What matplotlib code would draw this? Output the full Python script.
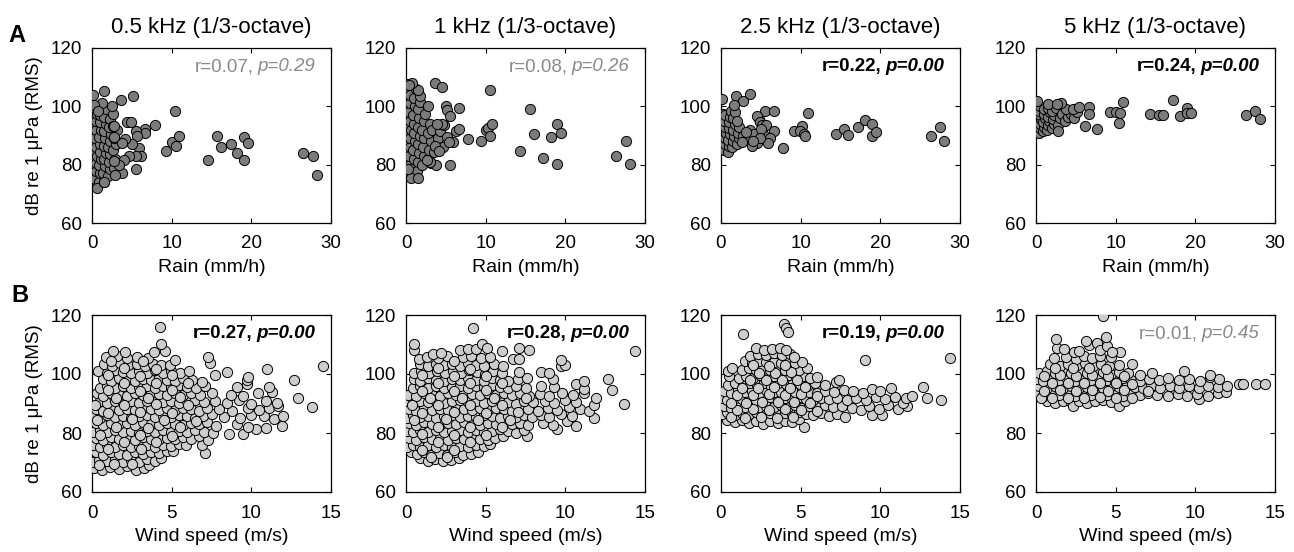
import matplotlib
matplotlib.use("Agg")
import matplotlib.pyplot as plt
import numpy as np

plt.rcParams['font.family'] = ['Liberation Sans', 'DejaVu Sans']

# ---------------- data ----------------
freq_titles = ["0.5 kHz (1/3-octave)", "1 kHz (1/3-octave)", "2.5 kHz (1/3-octave)", "5 kHz (1/3-octave)"]
rain_xticks = [0, 10, 20, 30]
wind_xticks = [0, 5, 10, 15]
db_yticks = [60, 80, 100, 120]

rain_r = ["0.07", "0.08", "0.22", "0.24"]
rain_p = ["0.29", "0.26", "0.00", "0.00"]
rain_sig = [False, False, True, True]
wind_r = ["0.27", "0.28", "0.19", "0.01"]
wind_p = ["0.00", "0.00", "0.00", "0.45"]
wind_sig = [True, True, True, False]

# Row A: rain (mm/h) vs level (dB)
rain_05 = [
 (0.05,76),(0.1,79),(0.05,82),(0.15,85),(0.1,88),(0.05,91),(0.15,94),(0.1,97),(0.2,99.5),
 (0.4,75),(0.5,78),(0.45,80.5),(0.6,83),(0.5,86),(0.4,89),(0.55,92),(0.45,95),(0.6,97.5),
 (0.9,74),(1.0,77),(0.85,80),(1.1,82),(0.95,84.5),(1.0,87),(0.9,89.5),(1.1,92),(0.95,94.5),(1.05,97),(1.2,99.5),
 (0.6,72),(1.5,74),(1.4,77),(1.6,79.5),(1.45,82),(1.7,84),(1.5,86.5),(1.6,89),(1.45,91.5),(1.7,94),(1.5,96.5),(1.8,99),
 (2.0,76),(2.2,78.5),(2.1,81),(2.3,83.5),(2.0,86),(2.2,88),(2.4,90.5),(2.1,93),(2.3,95.5),(2.6,97.5),
 (2.7,79),(2.9,82),(2.6,85),(3.0,87),(2.8,89),(3.1,92),(2.6,93.4),
 (0.1,104.0),(1.5,105.1),(2.5,100.2),(1.3,101),(0.3,100.5),(0.8,98.5),
 (7.87,93.7),(6.6,92.2),(6.7,90.9),(5.2,103.4),(3.7,102.1),(4.4,94.5),(4.9,94.5),(5.5,91.4),(5.7,89.9),
 (5.9,85.7),(5.05,87.2),(6.2,82.9),(5.5,82.9),(5.5,78.5),(4.6,82.9),(4.0,81.7),(4.2,88.8),(3.8,87.4),
 (3.8,77.1),(2.9,76.6),(3.4,80.0),(2.7,81.1),(2.7,89.5),(2.7,93.4),(1.5,73.9),
 (10.44,98.5),(9.35,84.6),(10.0,87.7),(10.6,86.3),(10.95,89.7),(14.5,81.7),(15.7,89.9),(16.2,86.1),
 (17.4,87.2),(18.2,84.0),(19.1,81.7),(19.1,89.5),(19.6,87.4),(26.5,84.0),(27.7,83.1),(28.2,76.6),
]
rain_1k = [
 (0.05,78),(0.1,81),(0.05,84),(0.15,87),(0.1,90),(0.05,93),(0.15,96),(0.1,99),(0.2,102),(0.1,105),(0.2,107.5),
 (0.45,77),(0.5,80),(0.4,83),(0.55,86),(0.45,89),(0.6,92),(0.5,95),(0.4,98),(0.55,101),(0.5,104),
 (0.9,79),(1.0,82),(0.85,85),(1.1,88),(0.95,91),(1.0,94),(0.9,97),(1.1,100),(1.0,103),(1.2,106),
 (1.4,78),(1.5,81),(1.6,84),(1.45,87),(1.7,90),(1.5,93),(1.6,96),(1.45,99),(1.8,101.5),
 (2.0,80),(2.2,83),(2.1,86),(2.3,89),(2.0,92),(2.2,95),(2.4,97.5),
 (2.8,82),(2.9,85),(3.1,88),(2.7,91),(3.0,94),(3.3,92),(3.5,84.5),(3.2,80.5),
 (4.0,89),(4.3,91.5),(4.8,93.5),(5.2,89.5),(4.6,86),
 (10.5,105.5),(15.6,99.2),(19.0,93.9),(19.4,91),(18.2,89.6),(16.1,90.4),(14.3,84.7),(17.2,82.4),(19.0,80.2),
 (7.8,88.7),(9.4,88),(10.0,92),(10.25,92.5),(10.8,94),(10.6,89.8),(26.4,83.1),(27.6,88.2),(28.1,80.2),
 (3.6,108),(4.5,106.8),(5.0,100.2),(5.1,98.9),(5.5,96.7),(6.7,99.4),(6.3,91.6),(6.6,92.2),(5.9,87.9),
 (5.4,87.7),(5.5,80),(3.8,80),(3.0,80.9),(2.6,81.5),(4.5,93.9),(3.9,93.9),(3.6,86.5),(4.1,84.7),
 (2.7,100.2),(1.8,103.7),(1.5,105.7),(0.8,107.9),(0.4,107.3),(0.6,75.5),(1.5,75.5),(0.3,78.5),
]
rain_25k = [
 (0.05,85.5),(0.1,87.5),(0.05,89.5),(0.15,91.5),(0.1,93.5),(0.05,95.5),(0.2,97.5),
 (0.4,85),(0.5,87),(0.45,89),(0.6,91),(0.5,93),(0.4,95),(0.55,97),
 (0.9,84.5),(1.0,86.5),(0.85,88.5),(1.1,90.5),(0.95,92.5),(1.0,94.5),(1.1,96.5),(1.3,98.5),
 (1.4,86),(1.5,88),(1.6,90),(1.45,92),(1.7,94),(1.5,96),(1.8,98),
 (2.0,87),(2.2,89),(2.1,91),(2.3,93),(2.0,95),
 (2.8,90),(3.3,88.5),(3.6,92),(4.2,90.5),(4.5,87.5),(3.9,86.5),(4.8,95.5),(5.3,90.5),
 (0.08,102.4),(1.84,103.6),(2.7,102),(3.7,104.1),(1.67,100.6),(5.5,98.3),(6.7,98.5),(4.5,96.7),
 (4.9,94.7),(5.1,93.6),(5.6,93.6),(5.0,92.2),(6.6,91.5),(6.1,89.3),(5.9,87.3),(4.9,89.3),(4.0,88.2),
 (3.1,91.3),(2.6,87.9),(7.8,85.8),(9.2,91.4),(10.2,93.3),(9.9,91.4),(10.4,90.5),(10.5,89.7),(10.9,97.7),
 (14.4,90.5),(15.5,92.3),(16.0,90.3),(17.2,92.8),(18.1,95.4),(18.96,94.0),(18.9,89.9),(19.5,91.1),
 (26.3,89.7),(27.5,92.8),(28.0,88),
]
rain_5k = [
 (0.05,91.5),(0.1,93),(0.05,94.5),(0.15,96),(0.1,97.5),(0.05,99),(0.2,100.5),
 (0.4,91),(0.5,92.5),(0.45,94),(0.6,95.5),(0.5,97),(0.4,98.5),(0.55,100),
 (0.9,91.5),(1.0,93),(0.85,94.5),(1.1,96),(0.95,97.5),(1.0,99),
 (1.4,92),(1.5,93.5),(1.6,95),(1.45,96.5),(1.7,98),(1.5,99.5),
 (2.0,92.5),(2.2,94),(2.1,95.5),(2.3,97),(2.0,98.5),(2.5,99.5),
 (2.8,93.5),(3.0,96),(2.7,91.5),(3.3,97.5),(3.6,95),(4.0,96.5),(4.4,97.5),(4.8,96),(5.2,98),(3.8,99),(4.6,99),
 (0.17,102),(1.55,100.8),(3.2,101.2),(2.6,100.8),(6.7,99.7),(5.4,99.7),(6.6,97.5),(6.2,93.2),(7.7,92.3),
 (9.3,98),(10.0,98),(10.6,97.7),(10.9,101.6),(10.4,94.4),(14.3,97.5),(15.5,96.9),(16.0,97.2),(17.2,102.3),
 (18.1,96.7),(19.0,99.5),(19.0,97.6),(19.5,97.6),(26.4,96.9),(27.5,98.4),(28.1,95.8),
]

# Row B: wind speed (m/s) vs level (dB)
wind_05 = [
 (0.15,68.3),(0.65,67.6),(1.15,68.5),(1.7,67.9),(2.2,68.7),(2.75,67.5),(3.25,68.2),(3.6,69.0),
 (0.05,70.2),(0.45,71.0),(0.95,70.4),(1.45,71.2),(1.95,70.1),(2.45,70.8),(2.95,70.3),(3.45,71.1),(3.95,70.6),(4.35,71.5),
 (0.25,73.4),(0.7,72.7),(1.2,73.6),(1.7,73.0),(2.2,72.6),(2.7,73.5),(3.2,72.9),(3.7,73.7),(4.2,73.1),(4.7,73.8),(5.1,74.0),(7.1,73.2),
 (0.05,75.8),(0.5,75.2),(0.95,76.0),(1.45,75.4),(1.95,75.9),(2.45,75.1),(2.95,75.7),(3.45,76.1),(3.95,75.3),(4.45,75.9),(4.95,75.5),(5.45,76.2),(5.9,76.0),(6.9,75.8),
 (0.25,78.3),(0.7,77.6),(1.2,78.5),(1.7,77.9),(2.2,78.2),(2.7,77.7),(3.2,78.6),(3.7,78.0),(4.2,77.8),(4.7,78.4),(5.2,77.9),(5.7,78.5),(6.2,78.1),(6.7,78.9),(7.3,77.6),
 (0.05,80.2),(0.5,80.9),(0.95,80.4),(1.45,81.0),(1.95,80.3),(2.45,80.8),(2.95,80.1),(3.45,80.7),(3.95,80.4),(4.45,81.0),(4.95,80.2),(5.45,80.8),(5.95,80.5),(6.45,81.1),(7.0,80.4),(7.6,80.0),(8.6,79.8),(9.5,79.6),(10.3,81.2),(10.9,81.8),
 (0.25,83.3),(0.7,82.7),(1.2,83.5),(1.7,82.9),(2.2,83.4),(2.7,82.8),(3.2,83.6),(3.7,83.0),(4.2,82.6),(4.7,83.4),(5.2,83.1),(5.7,82.7),(6.2,83.5),(6.7,82.9),(7.2,83.6),(7.8,82.4),(9.1,83.0),(9.8,82.1),(11.9,82.5),
 (0.05,85.8),(0.5,85.2),(0.95,86.0),(1.45,85.4),(1.95,85.9),(2.45,85.1),(2.95,85.7),(3.45,86.1),(3.95,85.3),(4.45,85.9),(4.95,85.5),(5.45,86.2),(5.95,85.6),(6.45,85.1),(6.95,85.9),(7.5,86.3),(8.3,85.4),(9.3,85.0),(10.0,86.2),(10.8,85.6),(11.4,84.9),(12.0,85.9),
 (0.25,88.3),(0.7,87.6),(1.2,88.5),(1.7,87.9),(2.2,88.2),(2.7,87.7),(3.2,88.6),(3.7,88.0),(4.2,87.8),(4.7,88.4),(5.2,87.9),(5.7,88.5),(6.2,88.1),(6.7,87.6),(7.2,88.4),(8.0,88.0),(8.8,87.4),(9.8,88.6),(10.5,87.9),(11.1,88.4),(11.7,89.0),(13.8,88.7),
 (0.5,90.8),(0.95,90.2),(1.45,91.0),(1.95,90.4),(2.45,90.9),(2.95,90.3),(3.45,90.7),(3.95,91.1),(4.45,90.5),(4.95,90.9),(5.45,90.2),(5.95,90.8),(6.45,91.2),(7.0,90.6),(7.7,91.0),(8.5,90.2),(9.2,91.3),(10.0,90.0),(10.9,90.8),(11.6,90.1),(12.9,91.8),
 (0.3,93.4),(0.7,92.7),(1.2,93.6),(1.7,93.0),(2.2,92.6),(2.7,93.5),(3.2,92.9),(3.7,93.7),(4.2,93.1),(4.7,92.8),(5.2,93.5),(5.7,93.0),(6.2,93.7),(6.8,92.9),(7.5,93.4),(8.7,93.0),(9.5,92.5),(10.4,93.6),(11.3,94.0),
 (0.5,95.2),(0.95,96.0),(1.45,95.4),(1.95,95.9),(2.45,95.1),(2.95,95.7),(3.45,96.1),(3.95,95.3),(4.45,95.9),(4.95,95.5),(5.45,96.2),(5.95,95.6),(6.5,95.1),(7.1,96.0),(9.1,95.5),(9.7,96.6),(11.1,95.5),
 (0.7,98.3),(1.2,97.7),(1.7,98.5),(2.2,98.0),(2.7,97.6),(3.2,98.4),(3.7,97.9),(4.2,98.6),(4.7,98.1),(5.2,97.7),(5.7,98.5),(6.3,98.0),(6.9,97.4),(7.7,99.7),(9.7,98.0),(9.8,98.9),(12.7,97.8),
 (0.4,101.0),(0.95,100.4),(1.45,101.2),(1.95,100.6),(2.45,100.2),(2.95,101.0),(3.45,100.5),(3.95,101.2),(4.45,100.3),(4.95,100.9),(5.5,100.5),(6.1,101.0),(8.5,100.6),(11.0,101.7),
 (0.75,103.4),(1.25,102.8),(1.75,103.6),(2.25,103.0),(2.8,103.5),(3.3,102.7),(3.8,103.3),(4.3,102.9),(4.9,103.2),(5.2,104.9),(7.4,103.8),(14.5,102.6),
 (0.9,105.6),(1.6,106.0),(2.2,105.3),(2.8,105.9),(3.5,105.5),(7.3,105.7),
 (1.3,107.8),(2.1,107.4),(3.9,107.6),(4.6,107.9),(4.3,110.2),(4.27,115.8),
 # extra overlapping points inside the dense core
 (0.45,69.3),(1.4,69.6),(2.5,69.4),(3.1,74.6),(1.0,74.5),(2.0,77.0),(4.0,76.9),(0.5,79.2),(3.0,79.4),(5.0,79.1),
 (1.5,82.0),(3.5,81.8),(5.5,82.0),(0.3,84.4),(2.5,84.6),(4.5,84.3),(6.5,84.0),(1.0,86.9),(3.0,87.1),(5.0,86.8),
 (0.2,89.6),(2.0,89.4),(4.0,89.7),(6.0,89.5),(1.5,92.0),(3.5,91.9),(5.5,92.2),(1.0,94.5),(3.0,94.3),(5.0,94.6),
 (2.0,96.8),(4.0,97.0),(6.0,97.1),(1.0,99.5),(3.0,99.3),(5.0,99.6),(2.0,102.0),(4.0,101.8),(1.2,104.4),(3.2,104.3),
]
wind_1k = [
 (0.9,71.5),(1.35,70.6),(1.85,71.2),(2.35,70.4),(2.85,70.9),(3.3,71.6),
 (0.3,73.6),(0.7,72.8),(1.15,73.4),(1.6,72.6),(2.1,73.2),(2.6,72.7),(3.1,73.5),(3.6,72.4),(4.1,72.9),(4.55,73.4),
 (0.05,75.1),(0.45,75.8),(0.9,75.3),(1.4,76.0),(1.9,75.4),(2.4,75.9),(2.9,75.2),(3.4,75.7),(3.9,75.1),(4.4,75.9),(4.9,75.5),(5.3,76.3),
 (0.2,78.3),(0.65,77.7),(1.15,78.5),(1.65,77.9),(2.15,78.2),(2.65,77.6),(3.15,78.4),(3.65,77.8),(4.15,78.6),(4.65,78.0),(5.15,77.7),(5.6,78.4),(6.1,79.0),(7.6,79.0),
 (0.05,80.8),(0.45,80.2),(0.9,81.0),(1.4,80.4),(1.9,80.9),(2.4,80.3),(2.9,80.7),(3.4,81.1),(3.9,80.5),(4.4,80.9),(4.9,80.2),(5.4,80.8),(5.9,81.2),(6.4,80.6),(6.9,80.0),(7.4,81.1),(9.5,81.5),(10.7,82.5),
 (0.2,83.4),(0.65,82.7),(1.15,83.6),(1.65,83.0),(2.15,82.6),(2.65,83.5),(3.15,82.9),(3.65,83.7),(4.15,83.1),(4.65,82.8),(5.15,83.5),(5.65,83.0),(6.15,83.7),(6.65,82.9),(7.15,83.4),(7.65,82.6),(8.6,83.5),(9.2,82.8),(10.1,84.0),(11.8,85.0),
 (0.05,85.2),(0.45,86.0),(0.9,85.4),(1.4,85.9),(1.9,85.1),(2.4,85.7),(2.9,86.1),(3.4,85.3),(3.9,85.9),(4.4,85.5),(4.9,86.2),(5.4,85.6),(5.9,85.1),(6.4,85.9),(6.9,85.5),(7.4,86.0),(7.9,85.4),(8.5,86.0),(9.0,85.3),(9.7,86.4),(10.4,85.6),
 (0.2,88.3),(0.65,87.6),(1.15,88.5),(1.65,87.9),(2.15,88.2),(2.65,87.7),(3.15,88.6),(3.65,88.0),(4.15,87.8),(4.65,88.4),(5.15,87.9),(5.65,88.5),(6.15,88.1),(6.65,87.6),(7.15,88.4),(7.65,88.0),(8.3,87.6),(8.9,88.4),(9.5,87.8),(10.2,88.7),(10.9,88.1),(11.5,87.4),
 (0.05,90.8),(0.45,90.2),(0.9,91.0),(1.4,90.4),(1.9,90.9),(2.4,90.3),(2.9,90.7),(3.4,91.1),(3.9,90.5),(4.4,90.9),(4.9,90.2),(5.4,90.8),(5.9,91.2),(6.4,90.6),(6.9,90.0),(7.4,91.0),(8.0,90.4),(8.7,91.0),(9.3,90.3),(10.0,91.1),(10.7,90.4),(11.8,89.5),(13.7,89.7),
 (0.15,93.0),(0.65,92.7),(1.15,93.6),(1.65,93.0),(2.15,92.6),(2.65,93.5),(3.15,92.9),(3.65,93.7),(4.15,93.1),(4.65,92.8),(5.15,93.5),(5.65,93.0),(6.15,93.7),(6.65,92.9),(7.15,93.4),(7.7,92.6),(8.4,93.2),(9.0,92.6),(9.8,93.4),(10.5,92.8),(11.2,93.6),(11.9,92.0),
 (0.45,95.2),(0.9,96.0),(1.4,95.4),(1.9,95.9),(2.4,95.1),(2.9,95.7),(3.4,96.1),(3.9,95.3),(4.4,95.9),(4.9,95.5),(5.4,96.2),(5.9,95.6),(6.4,95.1),(6.9,95.9),(7.5,95.4),(8.5,95.9),(9.3,95.5),(10.7,96.5),(11.2,94.8),(12.9,94.6),
 (0.5,98.3),(0.9,97.7),(1.4,98.5),(1.9,98.0),(2.4,97.6),(2.9,98.4),(3.4,97.9),(3.9,98.6),(4.4,98.1),(4.9,97.7),(5.4,98.5),(5.9,98.0),(6.4,97.6),(7.0,98.3),(7.6,98.8),(9.2,98.2),(11.2,97.7),(12.7,98.4),
 (0.5,100.2),(0.95,101.0),(1.45,100.4),(1.95,101.1),(2.45,100.3),(2.95,100.9),(3.45,100.5),(3.95,101.2),(4.45,100.6),(4.95,100.1),(5.45,100.9),(6.0,100.4),(7.1,100.7),(8.45,100.8),(9.0,100.2),
 (0.9,103.3),(1.4,102.7),(1.9,103.5),(2.4,102.9),(2.9,103.4),(3.4,102.8),(3.9,103.6),(4.4,103.0),(4.9,102.6),(5.5,103.3),(6.1,102.7),(9.7,102.8),(10.0,103.0),
 (0.8,105.0),(1.3,105.9),(2.0,105.5),(2.6,106.0),(3.6,105.6),(4.1,106.2),(4.7,105.4),(5.3,105.9),(6.7,105.0),(7.1,105.0),(9.7,104.7),
 (0.5,108.0),(1.7,106.8),(2.2,107.0),(3.4,108.0),(3.9,108.6),(4.4,108.4),(4.75,110.3),(5.1,108.8),(6.0,107.8),(7.1,108.7),(7.7,108.2),
 (0.5,110.2),(4.2,115.5),(14.4,107.7),
 # extra overlapping points inside the dense core
 (1.6,71.8),(2.6,71.9),(1.0,74.4),(3.0,74.2),(2.0,76.9),(4.0,77.0),(1.0,79.6),(3.0,79.4),(5.0,79.2),(2.0,82.0),
 (4.0,81.9),(6.0,82.1),(0.5,84.4),(2.5,84.6),(4.5,84.3),(6.5,84.5),(1.0,86.9),(3.0,87.0),(5.0,86.8),(7.0,87.0),
 (0.4,89.4),(2.0,89.6),(4.0,89.4),(6.0,89.6),(1.5,92.0),(3.5,91.8),(5.5,92.0),(7.5,91.9),(1.0,94.4),(3.0,94.3),
 (5.0,94.5),(2.0,96.9),(4.0,97.0),(6.0,96.8),(1.0,99.5),(3.0,99.4),(5.0,99.3),(2.0,102.0),(4.0,101.8),(3.0,104.5),
]
wind_25k = [
 (0.4,84.5),(0.85,83.6),(1.3,84.3),(1.75,83.4),(2.2,84.1),(2.65,83.2),(3.1,84.0),(3.55,83.5),(4.0,84.2),(4.45,83.7),(5.2,82.2),(4.9,84.6),
 (0.05,86.6),(0.4,87.0),(0.85,86.2),(1.3,86.9),(1.75,86.4),(2.2,87.1),(2.65,86.3),(3.1,86.8),(3.55,86.1),(4.0,86.9),(4.45,86.5),(4.9,87.0),(5.35,86.4),(5.8,86.0),(6.3,86.7),(6.8,85.8),(7.3,86.5),(7.8,85.5),(9.5,86.0),(10.1,86.2),
 (0.2,89.2),(0.6,88.6),(1.05,89.4),(1.5,88.8),(1.95,89.5),(2.4,88.7),(2.85,89.3),(3.3,88.9),(3.75,89.6),(4.2,88.8),(4.65,89.4),(5.1,88.6),(5.55,89.2),(6.0,88.7),(6.5,89.5),(7.0,88.9),(7.6,89.3),(8.2,88.5),(8.8,87.8),(9.3,89.0),(9.9,88.2),(10.5,89.5),(11.1,88.0),(11.7,89.1),(11.4,90.2),
 (0.05,91.8),(0.4,91.2),(0.85,92.0),(1.3,91.4),(1.75,91.9),(2.2,91.1),(2.65,91.7),(3.1,92.1),(3.55,91.3),(4.0,91.9),(4.45,91.5),(4.9,92.2),(5.35,91.6),(5.8,91.1),(6.3,91.9),(6.8,91.4),(7.3,92.0),(7.9,91.3),(8.5,91.9),(9.1,91.1),(9.7,92.2),(10.3,91.5),(10.9,92.3),(11.6,91.8),(12.0,92.6),(12.9,92.0),(13.8,91.2),
 (0.2,94.3),(0.6,93.7),(1.05,94.5),(1.5,93.9),(1.95,94.2),(2.4,93.6),(2.85,94.6),(3.3,94.0),(3.75,93.8),(4.2,94.4),(4.65,93.9),(5.1,94.5),(5.55,94.0),(6.0,93.6),(6.5,94.4),(7.1,94.0),(7.7,94.6),(8.3,94.2),(8.9,93.5),(9.5,94.8),(10.0,94.1),(10.7,95.3),(12.7,95.5),
 (0.45,96.2),(0.9,96.9),(1.35,96.3),(1.8,97.0),(2.25,96.4),(2.7,96.8),(3.15,96.1),(3.6,96.9),(4.05,96.5),(4.5,97.1),(4.95,96.6),(5.4,96.1),(5.9,96.8),(6.5,96.4),(7.2,97.4),(7.4,98.0),
 (0.5,99.3),(1.1,98.7),(1.55,99.4),(2.0,98.8),(2.45,99.6),(2.9,98.9),(3.35,99.3),(3.8,98.6),(4.25,99.5),(4.7,98.9),(5.15,99.4),(5.6,98.8),(6.0,99.1),
 (0.46,101.0),(0.67,102.0),(1.3,101.4),(1.75,102.0),(2.2,101.2),(2.65,101.8),(3.1,101.3),(3.55,102.1),(4.0,101.5),(4.45,102.0),(4.9,101.4),(5.4,101.9),
 (1.5,104.3),(1.95,103.7),(2.4,104.5),(2.85,103.9),(3.3,104.2),(3.75,103.6),(4.2,104.4),(4.65,103.8),(5.1,104.1),(9.06,104.7),(14.4,105.4),
 (1.8,106.2),(2.3,106.9),(2.8,106.4),(3.3,107.0),(3.8,106.5),(4.3,106.9),(4.6,105.8),
 (2.2,108.8),(2.7,108.3),(3.2,108.6),(3.7,108.9),(4.1,108.2),
 (1.36,113.6),(3.96,117.0),(4.1,115.7),(4.2,114.2),
 # extra overlapping points inside the dense core
 (0.6,85.3),(1.5,85.2),(2.5,85.4),(3.5,85.0),(4.5,85.3),(1.0,87.9),(2.0,88.0),(3.0,87.7),(4.0,88.0),(5.0,87.8),
 (6.0,87.4),(0.6,90.3),(1.6,90.2),(2.6,90.5),(3.6,90.4),(4.6,90.6),(5.6,90.2),(1.0,93.0),(2.0,92.8),(3.0,93.1),
 (4.0,92.9),(5.0,93.2),(6.0,92.7),(1.3,95.4),(2.3,95.3),(3.3,95.6),(4.3,95.2),(5.3,95.5),(1.8,98.0),(2.8,97.8),
 (3.8,98.1),(4.8,97.9),(2.4,100.5),(3.4,100.2),(4.4,100.6),(2.0,102.9),(3.0,102.7),(4.0,103.0),
]
wind_5k = [
 (0.7,90.8),(1.2,90.2),(1.7,91.0),(2.2,90.4),(2.35,89.3),(2.7,90.9),(3.2,90.3),(3.7,90.7),(4.2,91.1),(4.7,90.5),(5.2,89.3),(5.6,91.0),(10.2,91.6),
 (0.05,93.2),(0.45,92.6),(0.95,93.4),(1.45,92.8),(1.95,93.5),(2.45,92.7),(2.95,93.3),(3.45,92.9),(3.95,93.6),(4.45,92.8),(4.95,93.4),(5.45,92.6),(5.95,93.2),(6.5,92.8),(7.0,93.5),(7.6,92.9),(8.3,92.6),(8.9,93.3),(9.5,92.7),(10.1,93.2),(10.8,92.6),(11.4,93.4),(11.9,93.8),
 (0.2,95.8),(0.7,95.2),(1.2,96.0),(1.7,95.4),(2.2,95.9),(2.7,95.1),(3.2,95.7),(3.7,96.1),(4.2,95.3),(4.7,95.9),(5.2,95.5),(5.7,96.2),(6.2,95.6),(6.7,95.1),(7.2,95.9),(7.8,95.4),(8.4,96.0),(9.0,95.3),(9.6,95.9),(10.2,95.2),(10.8,96.0),(11.4,95.5),(12.0,95.8),
 (0.05,98.3),(0.45,97.7),(0.95,98.5),(1.45,97.9),(1.95,98.2),(2.45,97.6),(2.95,98.4),(3.45,97.9),(3.95,98.6),(4.45,98.1),(4.95,97.7),(5.45,98.5),(5.95,98.0),(6.5,97.6),(7.1,98.3),(7.7,97.8),(8.3,98.5),(9.0,97.9),(9.6,98.4),(10.3,97.6),(10.9,98.9),(11.5,98.2),(12.75,96.5),(13.0,96.6),(13.8,96.5),(14.4,96.5),
 (0.2,100.2),(0.7,101.0),(1.2,100.4),(1.7,101.1),(2.2,100.3),(2.7,100.9),(3.2,100.5),(3.7,101.2),(4.2,100.6),(4.7,100.1),(5.2,100.8),(5.8,100.3),(6.5,99.8),(7.3,100.2),(9.3,101.0),(10.9,99.5),
 (0.9,103.3),(1.5,102.8),(2.0,103.5),(2.6,103.0),(3.1,103.6),(3.6,102.8),(4.1,103.4),(4.6,102.7),(5.2,103.2),(6.0,103.5),
 (1.1,105.3),(1.9,105.8),(2.5,105.2),(3.0,106.0),(3.5,105.4),(4.0,106.1),(4.7,105.6),(5.3,107.5),
 (1.34,108.8),(1.76,108.5),(2.4,107.4),(2.7,107.8),(3.3,110.0),(3.8,110.5),(4.0,108.2),(4.45,109.6),(4.8,107.6),
 (1.26,112.0),(3.15,111.1),(4.4,112.5),(4.2,119.7),
 # extra overlapping points inside the dense core
 (0.3,91.8),(1.0,91.9),(2.0,92.0),(3.0,91.7),(4.0,92.1),(5.0,91.8),(6.0,92.0),(0.5,94.4),(1.5,94.5),(2.5,94.3),
 (3.5,94.6),(4.5,94.4),(5.5,94.5),(7.0,94.3),(1.0,97.0),(2.0,96.8),(3.0,97.1),(4.0,96.9),(5.0,97.0),(6.0,96.7),
 (0.5,99.4),(1.5,99.5),(2.5,99.3),(3.5,99.6),(4.5,99.3),(5.5,99.4),(1.2,102.0),(2.3,101.9),(3.3,102.1),(4.4,101.8),
]

rain_sets = [rain_05, rain_1k, rain_25k, rain_5k]
wind_sets = [wind_05, wind_1k, wind_25k, wind_5k]

# ---------------- layout ----------------
W, H = 1294, 552
fig = plt.figure(figsize=(W / 100, H / 100), dpi=100)
lefts = [92, 406, 721, 1036]
aw = 239
rowA = (48, 223)
rowB = (315, 492)

FILL_A = '#7b7b7b'
FILL_B = '#cdcdcd'
GRAY_TXT = '#8a8a8a'
MS = 54


def make_ax(left, top, bottom):
    return fig.add_axes([left / W, 1 - bottom / H, aw / W, (bottom - top) / H])


def style(ax, xmax, xticks):
    ax.set_xlim(0, xmax)
    ax.set_ylim(60, 120)
    ax.set_xticks(xticks)
    ax.set_yticks(db_yticks)
    ax.tick_params(direction='in', top=True, right=True, length=3.5, width=0.8,
                   labelsize=13.5)
    ax.tick_params(axis='x', pad=9)
    ax.tick_params(axis='y', pad=7)
    for s in ax.spines.values():
        s.set_linewidth(0.9)


def annotate(ax, r, p, sig):
    color = 'black' if sig else GRAY_TXT
    weight = 'bold' if sig else 'normal'
    y = 0.905
    t2 = ax.text(0.935, y, "p=" + p, transform=ax.transAxes, ha='right', va='center_baseline',
                 fontsize=13.5, color=color, fontweight=weight, fontstyle='italic', zorder=5)
    fig.canvas.draw()
    bb = t2.get_window_extent()
    xl = ax.transAxes.inverted().transform((bb.x0 - 4, bb.y0))[0]
    ax.text(xl, y, "r=" + r + ",", transform=ax.transAxes, ha='right', va='center_baseline',
            fontsize=13.5, color=color, fontweight=weight, zorder=5)


axesA, axesB = [], []
for i in range(4):
    ax = make_ax(lefts[i], *rowA)
    xs = [pt[0] for pt in rain_sets[i]]
    ys = [pt[1] for pt in rain_sets[i]]
    ax.scatter(xs, ys, s=MS, c=FILL_A, edgecolors='black', linewidths=0.7, zorder=3)
    style(ax, 30, rain_xticks)
    ax.set_title(freq_titles[i], fontsize=16, pad=11)
    ax.set_xlabel("Rain (mm/h)", fontsize=14, labelpad=5)
    axesA.append(ax)

    bx = make_ax(lefts[i], *rowB)
    xs = [pt[0] for pt in wind_sets[i]]
    ys = [pt[1] for pt in wind_sets[i]]
    bx.scatter(xs, ys, s=MS, c=FILL_B, edgecolors='black', linewidths=0.7, zorder=3)
    style(bx, 15, wind_xticks)
    bx.set_xlabel("Wind speed (m/s)", fontsize=14, labelpad=5)
    axesB.append(bx)

axesA[0].set_ylabel("dB re 1 μPa (RMS)", fontsize=13.5, labelpad=6)
axesB[0].set_ylabel("dB re 1 μPa (RMS)", fontsize=13.5, labelpad=6)

for i in range(4):
    annotate(axesA[i], rain_r[i], rain_p[i], rain_sig[i])
    annotate(axesB[i], wind_r[i], wind_p[i], wind_sig[i])

fig.text(8 / W, 1 - 42 / H, "A", fontsize=17, fontweight='bold', ha='left', va='baseline')
fig.text(11 / W, 1 - 302 / H, "B", fontsize=17, fontweight='bold', ha='left', va='baseline')

fig.savefig("out.png", dpi=100)
